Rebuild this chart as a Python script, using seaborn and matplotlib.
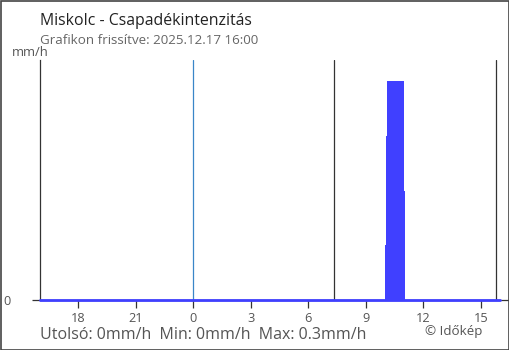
import matplotlib
matplotlib.use("Agg")
import matplotlib.pyplot as plt
import seaborn as sns
import pandas as pd

# ---- data (hours relative to 2025.12.17 00:00) ----
line_hours = [-8, -7, -6, -5, -4, -3, -2, -1, 0, 1, 2, 3, 4, 5, 6, 7, 8, 9, 10, 11, 12, 13, 14, 15, 16]
line_values = [0, 0, 0, 0, 0, 0, 0, 0, 0, 0, 0, 0, 0, 0, 0, 0, 0, 0, 0, 0, 0, 0, 0, 0, 0]
bar_starts = [10.0, 10.05, 10.1, 10.16]
bar_values = [0.075, 0.225, 0.3, 0.15]
bar_width_h = 0.9
tick_pos = [-6, -3, 0, 3, 6, 9, 12, 15]
tick_labels = ["18", "21", "0", "3", "6", "9", "12", "15"]
sunrise = 7.35
sunset = 15.78
title = "Miskolc - Csapadékintenzitás"
subtitle = "Grafikon frissítve: 2025.12.17 16:00"
footer = "Utolsó: 0mm/h  Min: 0mm/h  Max: 0.3mm/h"
credit = "© Időkép"

sns.set_theme(style="white")
plt.rcParams['font.family'] = ['Open Sans', 'DejaVu Sans']

W, H = 510, 350
fig = plt.figure(figsize=(W / 100, H / 100), dpi=100)
ax = fig.add_axes([40 / W, 50 / H, (508 - 40) / W, 240 / H])

x0, x1 = -8.0, -8.0 + (508 - 40) / 19.17
ax.set_xlim(x0, x1)
ax.set_ylim(0, 0.329)

blue = "#4040ff"
dark = "#333333"

# vertical markers
ax.axvline(0, color="#3a86c8", lw=0.9, zorder=1)
ax.axvline(sunrise, color=dark, lw=0.9, zorder=1)
ax.axvline(sunset, color=dark, lw=0.9, zorder=1)

# bars
ax.bar(bar_starts, bar_values, width=bar_width_h, align="edge", color=blue,
       linewidth=0, zorder=2)

# zero line
df = pd.DataFrame({"h": line_hours, "v": line_values})
sns.lineplot(data=df, x="h", y="v", ax=ax, color=blue, lw=2.0, zorder=3,
             clip_on=False)

# axes styling
for s in ["top", "right"]:
    ax.spines[s].set_visible(False)
ax.spines["left"].set_color(dark)
ax.spines["left"].set_linewidth(0.9)
ax.spines["bottom"].set_color(dark)
ax.spines["bottom"].set_linewidth(0.9)
ax.spines["bottom"].set_zorder(1)

ax.set_xticks(tick_pos)
ax.set_xticklabels(tick_labels)
ax.set_yticks([0])
ax.set_yticklabels(["0"])
ax.tick_params(axis="x", length=6, width=0.9, color=dark, labelsize=9.2,
               labelcolor="#555555", pad=3, direction="out", bottom=True)
ax.tick_params(axis="y", length=6, width=0.9, color=dark, labelsize=9.2,
               labelcolor="#555555", pad=15, direction="out", left=True)
ax.set_xlabel("")
ax.set_ylabel("")
ax.grid(False)

# texts
fig.text(40 / W, 1 - 21 / H, title, fontsize=11.4, color="#222222", va="center", ha="left")
fig.text(40 / W, 1 - 41 / H, subtitle, fontsize=9.6, color="#666666", va="center", ha="left")
fig.text(12 / W, 1 - 52 / H, "mm/h", fontsize=9.4, color="#555555", va="center", ha="left")
fig.text(40 / W, 1 - 335 / H, footer, fontsize=11.5, color="#555555", va="center", ha="left")
fig.text(425 / W, 1 - 332 / H, credit, fontsize=9.6, color="#555555", va="center", ha="left")

# figure border
fig.patches.append(plt.Rectangle((0.5 / W, 0.5 / H), 1 - 1.5 / W, 1 - 1.5 / H,
                                 transform=fig.transFigure, fill=False,
                                 edgecolor="#444444", lw=1.2))

fig.savefig("out.png", dpi=100)
